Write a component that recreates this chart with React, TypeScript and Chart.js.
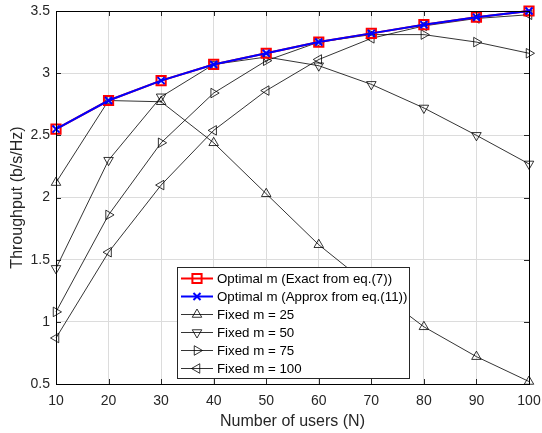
import React, { useEffect, useRef } from "react";
import { Chart, registerables } from "chart.js";
import { drawPoint } from "chart.js/helpers";

Chart.register(...registerables);

const users = [10, 20, 30, 40, 50, 60, 70, 80, 90, 100];
const optimalExact = [2.55, 2.78, 2.94, 3.07, 3.16, 3.25, 3.32, 3.39, 3.45, 3.5];
const optimalApprox = [2.55, 2.78, 2.94, 3.07, 3.16, 3.25, 3.32, 3.39, 3.45, 3.5];
const fixed25 = [2.12, 2.78, 2.77, 2.44, 2.03, 1.62, 1.28, 0.96, 0.72, 0.52];
const fixed50 = [1.43, 2.3, 2.81, 3.07, 3.13, 3.06, 2.91, 2.72, 2.5, 2.27];
const fixed75 = [1.08, 1.86, 2.44, 2.84, 3.1, 3.25, 3.31, 3.31, 3.25, 3.16];
const fixed100 = [0.87, 1.56, 2.1, 2.54, 2.86, 3.11, 3.28, 3.38, 3.44, 3.47];
const seriesLabels = [
  "Optimal m (Exact from eq.(7))",
  "Optimal m (Approx from eq.(11))",
  "Fixed m = 25",
  "Fixed m = 50",
  "Fixed m = 75",
  "Fixed m = 100",
];
const xTitle = "Number of users (N)";
const yTitle = "Throughput (b/s/Hz)";

const FONT = "'Liberation Sans', Arial, Helvetica, sans-serif";

const toXY = (ys: number[]) => users.map((x, i) => ({ x, y: ys[i] }));

const frameLegendPlugin = {
  id: "frameLegend",
  afterDatasetsDraw(chart: any) {
    const { ctx, chartArea, scales } = chart;
    const { left, top, right, bottom } = chartArea;
    ctx.save();
    // tick marks (inside)
    ctx.strokeStyle = "#262626";
    ctx.lineWidth = 1;
    ctx.beginPath();
    scales.x.ticks.forEach((t: any) => {
      const px = Math.round(scales.x.getPixelForValue(t.value)) + 0.5;
      ctx.moveTo(px, bottom);
      ctx.lineTo(px, bottom - 5);
      ctx.moveTo(px, top);
      ctx.lineTo(px, top + 5);
    });
    scales.y.ticks.forEach((t: any) => {
      const py = Math.round(scales.y.getPixelForValue(t.value)) + 0.5;
      ctx.moveTo(left, py);
      ctx.lineTo(left + 5, py);
      ctx.moveTo(right, py);
      ctx.lineTo(right - 5, py);
    });
    ctx.stroke();
    // frame
    ctx.strokeStyle = "#000";
    ctx.lineWidth = 1;
    ctx.strokeRect(Math.round(left) + 0.5, Math.round(top) + 0.5, Math.round(right - left), Math.round(bottom - top));
    // legend box
    const bx = left + 121;
    const by = top + 256;
    const bw = 232;
    const bh = 111;
    ctx.fillStyle = "#fff";
    ctx.fillRect(bx, by, bw, bh);
    ctx.strokeStyle = "#262626";
    ctx.lineWidth = 1;
    ctx.strokeRect(Math.round(bx) + 0.5, Math.round(by) + 0.5, bw, bh);
    ctx.font = `13.3px ${FONT}`;
    ctx.textBaseline = "middle";
    ctx.textAlign = "left";
    chart.data.datasets.forEach((ds: any, i: number) => {
      const cy = by + 11.5 + i * 18;
      ctx.strokeStyle = ds.borderColor;
      ctx.lineWidth = ds.borderWidth;
      ctx.beginPath();
      ctx.moveTo(bx + 4, cy);
      ctx.lineTo(bx + 36, cy);
      ctx.stroke();
      ctx.fillStyle = ds.pointBackgroundColor;
      ctx.strokeStyle = ds.pointBorderColor;
      ctx.lineWidth = ds.pointBorderWidth;
      drawPoint(ctx, { pointStyle: ds.pointStyle, rotation: ds.pointRotation || 0, radius: ds.pointRadius, borderWidth: ds.pointBorderWidth }, bx + 20, cy);
      ctx.fillStyle = "#000";
      ctx.fillText(ds.label, bx + 40, cy + 1);
    });
    ctx.restore();
  },
};

export default function App() {
  const ref = useRef<HTMLCanvasElement | null>(null);
  useEffect(() => {
    document.body.style.margin = "0";
    const mk = (label: string, data: number[], color: string, width: number, style: string, rot: number, radius: number, order: number, pbw: number) => ({
      label,
      data: toXY(data),
      borderColor: color,
      borderWidth: width,
      pointStyle: style,
      pointRotation: rot,
      pointRadius: radius,
      pointHoverRadius: radius,
      pointBorderColor: color,
      pointBorderWidth: pbw,
      pointBackgroundColor: "rgba(0,0,0,0)",
      fill: false,
      tension: 0,
      clip: false,
      order,
    });
    const chart = new Chart(ref.current as HTMLCanvasElement, {
      type: "line",
      data: {
        datasets: [
          mk(seriesLabels[0], optimalExact, "#ff0000", 2, "rect", 0, 6.5, 1, 2),
          mk(seriesLabels[1], optimalApprox, "#0000ff", 2, "crossRot", 0, 5, 0, 2),
          mk(seriesLabels[2], fixed25, "#000000", 0.8, "triangle", 0, 5.5, 2, 0.8),
          mk(seriesLabels[3], fixed50, "#000000", 0.8, "triangle", 180, 5.5, 3, 0.8),
          mk(seriesLabels[4], fixed75, "#000000", 0.8, "triangle", 90, 5.5, 4, 0.8),
          mk(seriesLabels[5], fixed100, "#000000", 0.8, "triangle", 270, 5.5, 5, 0.8),
        ] as any,
      },
      options: {
        animation: false,
        responsive: false,
        maintainAspectRatio: false,
        layout: { padding: { left: 0, right: 13, top: 11, bottom: 0 } },
        plugins: { legend: { display: false }, tooltip: { enabled: false } },
        scales: {
          x: {
            type: "linear",
            min: 10,
            max: 100,
            ticks: { stepSize: 10, color: "#262626", font: { family: FONT, size: 14 }, padding: 9, maxRotation: 0 },
            grid: { color: "#dcdcdc", lineWidth: 1, drawTicks: false },
            border: { display: false },
            title: { display: true, text: xTitle, color: "#262626", font: { family: FONT, size: 16 }, padding: { top: 0, bottom: 2 } },
            afterFit: (s: any) => { s.height = 49; s.paddingLeft = 0; s.paddingRight = 0; },
          },
          y: {
            type: "linear",
            min: 0.5,
            max: 3.5,
            ticks: { stepSize: 0.5, color: "#262626", font: { family: FONT, size: 14 }, padding: 6, callback: (v: any) => String(v) },
            grid: { color: "#dcdcdc", lineWidth: 1, drawTicks: false },
            border: { display: false },
            title: { display: true, text: yTitle, color: "#262626", font: { family: FONT, size: 16 }, padding: { top: 8, bottom: 0 } },
            afterFit: (s: any) => { s.width = 56; s.paddingTop = 0; s.paddingBottom = 0; },
          },
        },
      },
      plugins: [frameLegendPlugin],
    });
    return () => chart.destroy();
  }, []);
  return (
    <div style={{ position: "fixed", left: 0, top: 0, width: 542, height: 433, background: "#fff" }}>
      <canvas ref={ref} width={542} height={433} style={{ width: 542, height: 433 }} />
    </div>
  );
}
